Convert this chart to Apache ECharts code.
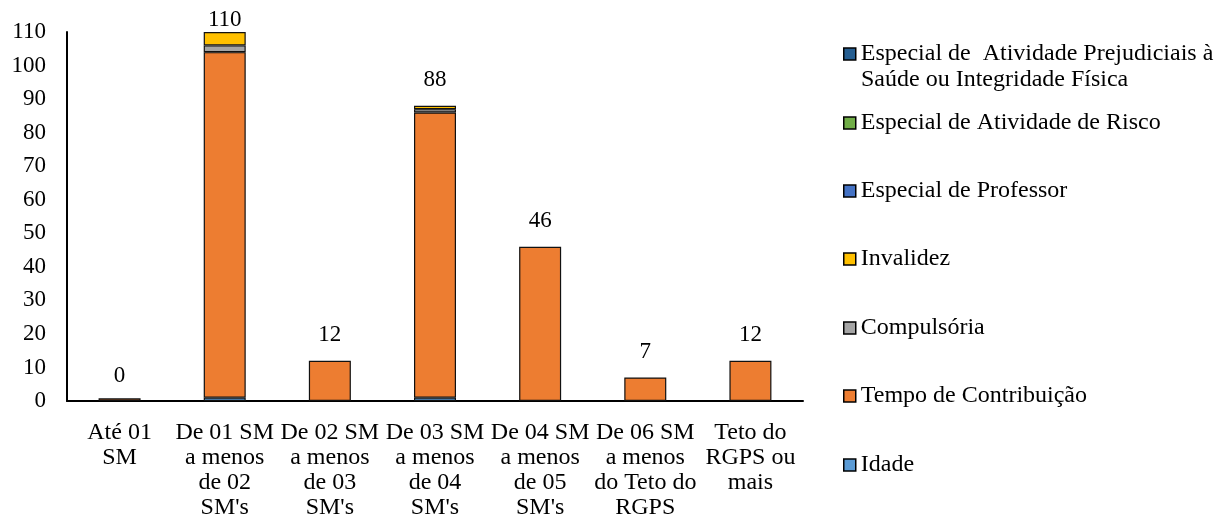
<!DOCTYPE html>
<html>
<head>
<meta charset="utf-8">
<script src="https://cdn.jsdelivr.net/npm/echarts@6/dist/echarts.min.js"></script>
<style>
  html, body { margin: 0; padding: 0; background: #fff; }
  #chart { width: 1225px; height: 521px; }
</style>
</head>
<body>
<div id="chart"></div>
<script>
// faixas de renda
const categories = [
  'Até 01\nSM',
  'De 01 SM\na menos\nde 02\nSM\'s',
  'De 02 SM\na menos\nde 03\nSM\'s',
  'De 03 SM\na menos\nde 04\nSM\'s',
  'De 04 SM\na menos\nde 05\nSM\'s',
  'De 06 SM\na menos\ndo Teto do\nRGPS',
  'Teto do\nRGPS ou\nmais'
];

// valores por tipo de aposentadoria (de baixo para cima)
const idade        = [0, 1, 0, 1, 0, 0, 0];
const tempo        = [0.8, 103, 12, 85, 46, 7, 12];
const compulsoria  = [0, 2, 0, 1, 0, 0, 0];
const invalidez    = [0, 4, 0, 1, 0, 0, 0];
const professor    = [0, 0, 0, 0, 0, 0, 0];
const risco        = [0, 0, 0, 0, 0, 0, 0];
const prejudiciais = [0, 0, 0, 0, 0, 0, 0];
const totais       = [0, 110, 12, 88, 46, 7, 12];

const yTicks = { min: 0, max: 110, interval: 10 };

const font = 'Liberation Serif';

const stackSeries = [
  { name: 'Idade', data: idade, color: '#5B9BD5' },
  { name: 'Tempo de Contribuição', data: tempo, color: '#ED7D31' },
  { name: 'Compulsória', data: compulsoria, color: '#A5A5A5' },
  { name: 'Invalidez', data: invalidez, color: '#FFC000' },
  { name: 'Especial de Professor', data: professor, color: '#4472C4' },
  { name: 'Especial de Atividade de Risco', data: risco, color: '#70AD47' },
  { name: 'Especial de  Atividade Prejudiciais à Saúde ou Integridade Física', data: prejudiciais, color: '#255E91' }
];

// legenda na ordem inversa, como no Excel
const legendNames = stackSeries.map(s => s.name).reverse();
const legendTops = [37, 106, 174, 242, 311, 379, 448];

const chart = echarts.init(document.getElementById('chart'));

// zeros viram '-' para nao desenhar borda de altura zero
let series = stackSeries.map(s => ({
  name: s.name,
  type: 'bar',
  stack: 'total',
  barWidth: 42,
  data: s.data.map(v => v === 0 ? '-' : v),
  itemStyle: { color: s.color, borderColor: '#111', borderWidth: 1.2 },
  emphasis: { disabled: true }
}));

series.push({
  name: 'Total',
  type: 'bar',
  barGap: '-100%',
  barWidth: 42,
  data: totais.map(v => v >= 110 ? { value: v, label: { distance: 1 } } : v),
  itemStyle: { color: 'rgba(0,0,0,0)' },
  label: {
    show: true,
    position: 'top',
    distance: 14,
    color: '#000',
    fontFamily: font,
    fontSize: 23
  },
  z: 10,
  silent: true
});

const legends = legendNames.map((name, i) => ({
  orient: 'vertical',
  left: 838,
  top: legendTops[i],
  data: [name],
  itemWidth: 12,
  itemHeight: 12,
  itemGap: 0,
  icon: 'rect',
  selectedMode: false,
  itemStyle: { borderColor: '#000', borderWidth: 1.5 },
  formatter: n => n.startsWith('Especial de  Atividade Prejudiciais') ? 'Especial de  Atividade Prejudiciais à' : n,
  textStyle: { fontFamily: font, fontSize: 24, color: '#000' }
}));

const option = {
  animation: false,
  backgroundColor: '#fff',
  grid: { left: 67, right: 422, top: 32, bottom: 120, containLabel: false },
  legend: legends,
  graphic: [{
    type: 'text',
    left: 861,
    top: 68,
    style: { text: 'Saúde ou Integridade Física', font: '24px "Liberation Serif"', fill: '#000' }
  }],
  xAxis: {
    type: 'category',
    data: categories,
    axisLine: { lineStyle: { color: '#000', width: 2 } },
    axisTick: { show: false },
    axisLabel: {
      interval: 0,
      color: '#000',
      fontFamily: font,
      fontSize: 24,
      lineHeight: 25,
      margin: 19
    }
  },
  yAxis: {
    type: 'value',
    min: yTicks.min,
    max: yTicks.max,
    interval: yTicks.interval,
    splitLine: { show: false },
    axisLine: { show: true, lineStyle: { color: '#000', width: 2 } },
    axisTick: { show: false },
    axisLabel: { color: '#000', fontFamily: font, fontSize: 23, margin: 21 }
  },
  series: series
};

chart.setOption(option);
</script>
</body>
</html>
